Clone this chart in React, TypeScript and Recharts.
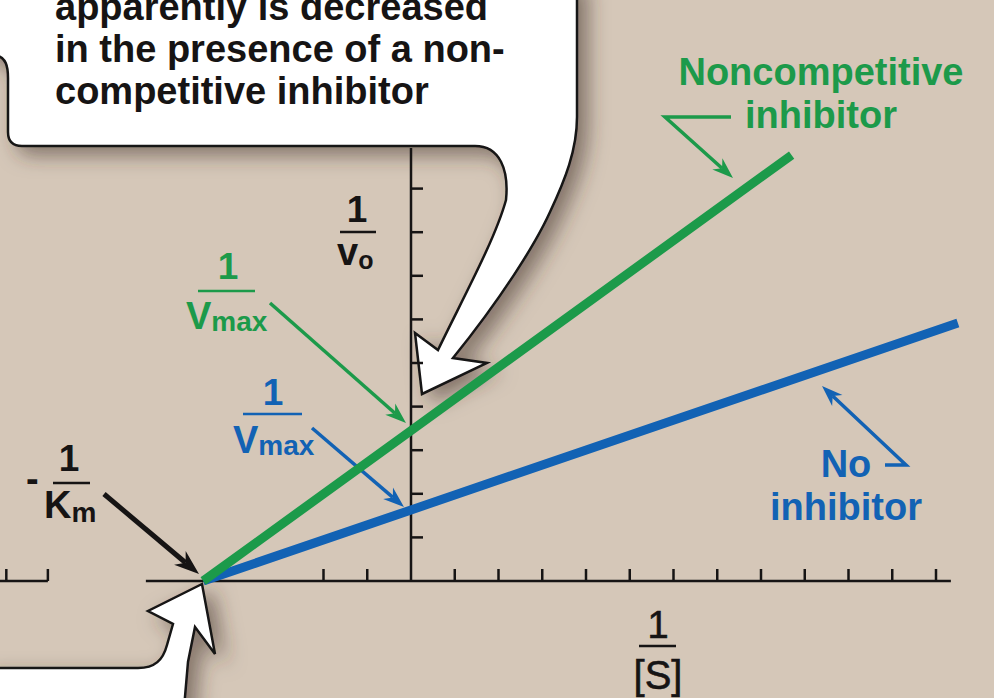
import React from 'react';
import { ComposedChart, Line, XAxis, YAxis, ReferenceLine, Customized } from 'recharts';

// Lineweaver-Burk plot: 1/[S] on x, 1/vo on y (arbitrary units, one tick = 1)
const noInhibitorX = [-4.75, 0, 12.5];
const noInhibitorY = [0, 1.63, 5.92];
const noncompetitiveX = [-4.75, 0, 8.7];
const noncompetitiveY = [0, 3.45, 9.77];

const xTicks = [-9.25, -8.3, -2, -1, 1, 2, 3, 4, 5, 6, 7, 8, 9, 10, 11, 12];
const yTicks = [1, 2, 3, 4, 5, 6, 7, 8, 9];
const xAxisMain = [-6.06, 12.34];
const xAxisLeft = [-9.45, -8.3];
const yAxisTop = 9.93;

const W = 994;
const H = 698;
const ORIGIN_X = 411;
const ORIGIN_Y = 581;
const UNIT_X = 43.75;
const UNIT_Y = 43.6;
const X_DOMAIN = [-ORIGIN_X / UNIT_X, (W - ORIGIN_X) / UNIT_X];
const Y_DOMAIN = [-(H - ORIGIN_Y) / UNIT_Y, ORIGIN_Y / UNIT_Y];
const TICK_LEN = 12;

const BG = '#d5c7b8';
const INK = '#161414';
const GREEN = '#1c9a4a';
const BLUE = '#1262b4';
const FONT = "'Liberation Sans', Arial, Helvetica, sans-serif";

const noInhibitorData = noInhibitorX.map((x, i) => ({ x, y: noInhibitorY[i] }));
const noncompetitiveData = noncompetitiveX.map((x, i) => ({ x, y: noncompetitiveY[i] }));

type Pt = [number, number];

const Arrow = ({ pts, color, w, head = 21 }: { pts: Pt[]; color: string; w: number; head?: number }) => {
    const [x1, y1] = pts[pts.length - 2];
    const [x2, y2] = pts[pts.length - 1];
    const len = Math.hypot(x2 - x1, y2 - y1);
    const ux = (x2 - x1) / len;
    const uy = (y2 - y1) / len;
    const bx = x2 - ux * head;
    const by = y2 - uy * head;
    const hw = head * 0.36;
    const nx = x2 - ux * head * 0.7;
    const ny = y2 - uy * head * 0.7;
    const shaft = [...pts.slice(0, -1), [nx, ny]].map((p) => p.join(',')).join(' ');
    return (
        <g>
            <polyline points={shaft} fill="none" stroke={color} strokeWidth={w} strokeLinejoin="miter" />
            <polygon
                points={`${x2},${y2} ${bx - uy * hw},${by + ux * hw} ${nx},${ny} ${bx + uy * hw},${by - ux * hw}`}
                fill={color}
            />
        </g>
    );
};

// labels and pointer arrows, drawn under the lines
const Labels = () => (
    <g fontFamily={FONT} fontWeight={700}>
        {/* 1 / vo */}
        <text x={357} y={222} fontSize={37} fill={INK} textAnchor="middle">1</text>
        <line x1={340} y1={232} x2={376} y2={232} stroke={INK} strokeWidth={2.5} />
        <text x={337} y={265} fontSize={38} fill={INK}>
            v<tspan fontSize={25} dy={4}>o</tspan>
        </text>

        {/* 1 / Vmax, inhibited */}
        <text x={228} y={279} fontSize={37} fill={GREEN} textAnchor="middle">1</text>
        <line x1={198} y1={291} x2={255} y2={291} stroke={GREEN} strokeWidth={2.5} />
        <text x={186} y={329} fontSize={38} fill={GREEN}>
            V<tspan fontSize={28} dy={2}>max</tspan>
        </text>
        <Arrow pts={[[270, 303], [406, 423]]} color={GREEN} w={3.5} />

        {/* 1 / Vmax, no inhibitor */}
        <text x={273} y={405} fontSize={37} fill={BLUE} textAnchor="middle">1</text>
        <line x1={243} y1={414} x2={302} y2={414} stroke={BLUE} strokeWidth={2.5} />
        <text x={233} y={453} fontSize={38} fill={BLUE}>
            V<tspan fontSize={28} dy={2}>max</tspan>
        </text>
        <Arrow pts={[[312, 428], [404, 507]]} color={BLUE} w={3.5} />

        {/* -1 / Km */}
        <text x={26} y={492} fontSize={38} fill={INK}>-</text>
        <text x={69} y={471} fontSize={37} fill={INK} textAnchor="middle">1</text>
        <line x1={53} y1={483} x2={90} y2={483} stroke={INK} strokeWidth={2.5} />
        <text x={44} y={518} fontSize={38} fill={INK}>
            K<tspan fontSize={28} dy={4}>m</tspan>
        </text>
        <Arrow pts={[[104, 494], [199, 574]]} color={INK} w={5} head={25} />

        {/* 1 / [S] */}
        <g fontFamily={"'Liberation Sans Narrow', " + FONT} fontWeight={400} stroke={INK} strokeWidth={0.6}>
            <text x={658} y={638} fontSize={38} fill={INK} textAnchor="middle">1</text>
            <text x={658} y={689} fontSize={40} fill={INK} textAnchor="middle">[S]</text>
        </g>
        <line x1={639} y1={646} x2={676} y2={646} stroke={INK} strokeWidth={2.5} />

        {/* series labels */}
        <text x={821} y={85} fontSize={38} fill={GREEN} textAnchor="middle">Noncompetitive</text>
        <text x={821} y={128} fontSize={38} fill={GREEN} textAnchor="middle">inhibitor</text>
        <Arrow pts={[[731, 117], [665, 117], [733, 178]]} color={GREEN} w={3.5} />

        <text x={846} y={477} fontSize={38} fill={BLUE} textAnchor="middle">No</text>
        <text x={846} y={520} fontSize={38} fill={BLUE} textAnchor="middle">inhibitor</text>
        <Arrow pts={[[885, 465], [906, 465], [822, 386]]} color={BLUE} w={3.5} />
    </g>
);

// white speech-bubble callouts, drawn on top
const Callouts = () => (
    <g>
        <defs>
            <filter id="callout-shadow" x="-20%" y="-20%" width="150%" height="150%">
                <feDropShadow dx={10} dy={8} stdDeviation={10} floodColor="#3e3026" floodOpacity={0.55} />
            </filter>
        </defs>
        <path
            d="M -20,-20 L 577,-20 L 577,117 C 577,150 565,180 550,212 C 535,245 500,300 453,358 L 487,363 L 422,394 L 415,333 L 438,350 C 462,300 495,240 506,200 C 509,170 500,146 475,146 L 22,146 Q 8,146 8,132 L 8,78 C 8,66 6,58 -4,55 L -20,55 Z"
            fill="#ffffff"
            stroke={INK}
            strokeWidth={2.5}
            filter="url(#callout-shadow)"
        />
        <path
            d="M -20,720 L -20,668 L 138,668 C 155,668 163,660 167,645 L 173,624 L 148,611 L 202,584 L 215,654 L 195,627 L 188,662 L 183,720 Z"
            fill="#ffffff"
            stroke={INK}
            strokeWidth={2.5}
            filter="url(#callout-shadow)"
        />
        <g fontFamily={FONT} fontWeight={700} fontSize={38} fill={INK}>
            <text x={55} y={20}>apparently is decreased</text>
            <text x={55} y={62}>in the presence of a non-</text>
            <text x={55} y={104}>competitive inhibitor</text>
        </g>
    </g>
);

const axisStyle = { stroke: INK, strokeWidth: 2.5 };

const App: React.FC = () => {
    return (
        <div style={{ width: W, height: H, background: BG }}>
            <style>{'body{margin:0}'}</style>
            <ComposedChart width={W} height={H} margin={{ top: 0, right: 0, bottom: 0, left: 0 }}>
                <XAxis type="number" dataKey="x" domain={X_DOMAIN} allowDataOverflow hide />
                <YAxis type="number" dataKey="y" domain={Y_DOMAIN} allowDataOverflow hide />

                <Customized component={Labels} />

                <ReferenceLine segment={[{ x: xAxisMain[0], y: 0 }, { x: xAxisMain[1], y: 0 }]} {...axisStyle} ifOverflow="visible" />
                <ReferenceLine segment={[{ x: xAxisLeft[0], y: 0 }, { x: xAxisLeft[1], y: 0 }]} {...axisStyle} ifOverflow="visible" />
                <ReferenceLine segment={[{ x: 0, y: 0 }, { x: 0, y: yAxisTop }]} {...axisStyle} ifOverflow="visible" />
                {xTicks.map((t) => (
                    <ReferenceLine
                        key={`xt-${t}`}
                        segment={[{ x: t, y: 0 }, { x: t, y: TICK_LEN / UNIT_Y }]}
                        {...axisStyle}
                        ifOverflow="visible"
                    />
                ))}
                {yTicks.map((t) => (
                    <ReferenceLine
                        key={`yt-${t}`}
                        segment={[{ x: 0, y: t }, { x: TICK_LEN / UNIT_X, y: t }]}
                        {...axisStyle}
                        ifOverflow="visible"
                    />
                ))}

                <Line
                    data={noInhibitorData}
                    dataKey="y"
                    type="linear"
                    stroke={BLUE}
                    strokeWidth={9}
                    dot={false}
                    activeDot={false}
                    isAnimationActive={false}
                />
                <Line
                    data={noncompetitiveData}
                    dataKey="y"
                    type="linear"
                    stroke={GREEN}
                    strokeWidth={9}
                    dot={false}
                    activeDot={false}
                    isAnimationActive={false}
                />

                <Customized component={Callouts} />
            </ComposedChart>
        </div>
    );
};

export default App;
